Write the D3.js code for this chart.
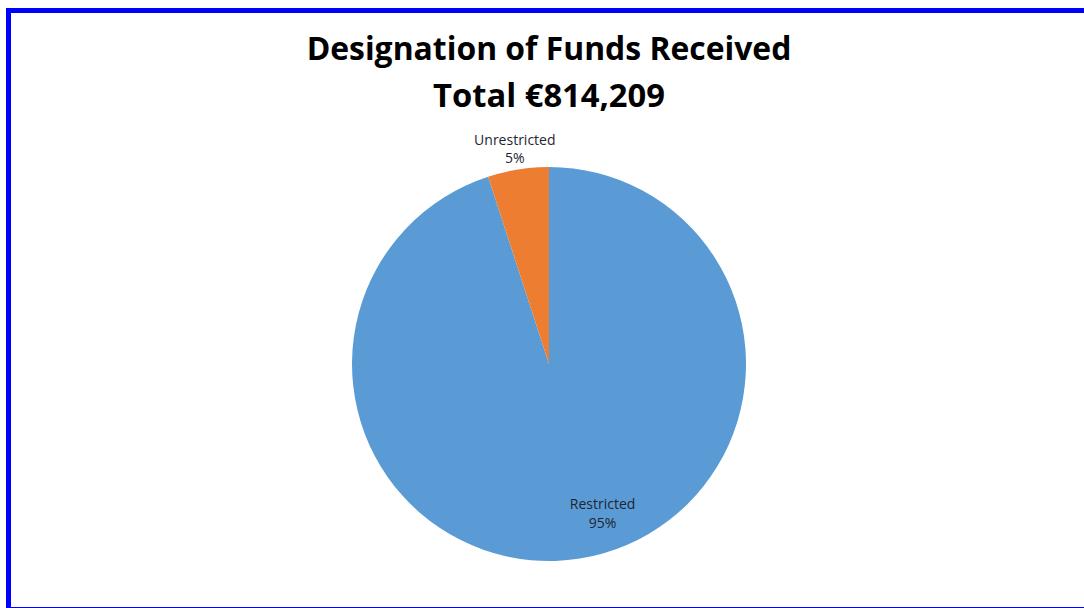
<!DOCTYPE html>
<html>
<head>
<meta charset="utf-8">
<script src="https://cdn.jsdelivr.net/npm/d3@7"></script>
<style>
  body { margin: 0; background: #fff; }
  svg { display: block; }
</style>
</head>
<body>
<div id="chart"></div>
<script>
var categories = ["Restricted", "Unrestricted"];
var shares = [95, 5];
var titleLines = ["Designation of Funds Received", "Total €814,209"];

var width = 1084,
    height = 608;

var svg = d3.select("#chart").append("svg")
    .attr("width", width)
    .attr("height", height);

// blue frame, runs off the right/bottom of the window
svg.append("rect")
    .attr("x", 8.5)
    .attr("y", 10.5)
    .attr("width", 1100)
    .attr("height", 599)
    .attr("fill", "#fff")
    .attr("stroke", "#0000ff")
    .attr("stroke-width", 5);

// title, fit to the width seen in the picture
var titleWidths = [485, 232];
svg.selectAll("text.title")
    .data(titleLines)
    .enter().append("text")
    .attr("class", "title")
    .attr("x", 549)
    .attr("y", function (d, i) { return 60 + i * 47; })
    .attr("text-anchor", "middle")
    .style("font-family", "'Open Sans', sans-serif")
    .style("font-weight", "bold")
    .style("font-size", "30px")
    .style("fill", "#000")
    .text(function (d) { return d; })
    .each(function (d, i) {
        var w = this.getComputedTextLength();
        d3.select(this).style("font-size", (30 * titleWidths[i] / w) + "px");
    });

var data = categories.map(function (c, i) { return { name: c, value: shares[i] }; });

var color = d3.scaleOrdinal()
    .domain(categories)
    .range(["#5b9bd5", "#ed7d31"]);

var cx = 549, cy = 364, r = 197;

var pie = d3.pie()
    .value(function (d) { return d.value; })
    .sort(null);

var arc = d3.arc()
    .innerRadius(0)
    .outerRadius(r);

var g = svg.append("g")
    .attr("transform", "translate(" + cx + "," + cy + ")");

var arcs = pie(data);

g.selectAll("path")
    .data(arcs)
    .enter().append("path")
    .attr("d", arc)
    .attr("fill", function (d) { return color(d.data.name); });

// label placement (like Excel's best fit): big slice inside, small one outside
function labelPos(d) {
    var mid = (d.startAngle + d.endAngle) / 2;
    if (d.data.value > 50) return d3.pointRadial(mid - 0.19, r * 0.80);
    return d3.pointRadial(mid, r * 1.11);
}

var labels = g.selectAll("text.lbl")
    .data(arcs)
    .enter().append("text")
    .attr("class", "lbl")
    .attr("text-anchor", "middle")
    .style("font-family", "'Open Sans', sans-serif")
    .style("font-size", "14px")
    .style("fill", "#1e2530")
    .attr("transform", function (d) {
        var p = labelPos(d);
        return "translate(" + p[0] + "," + p[1] + ")";
    });

labels.append("tspan")
    .attr("x", 0)
    .attr("dy", "-0.25em")
    .text(function (d) { return d.data.name; });

labels.append("tspan")
    .attr("x", 0)
    .attr("dy", "1.35em")
    .text(function (d) { return d.data.value + "%"; });
</script>
</body>
</html>
